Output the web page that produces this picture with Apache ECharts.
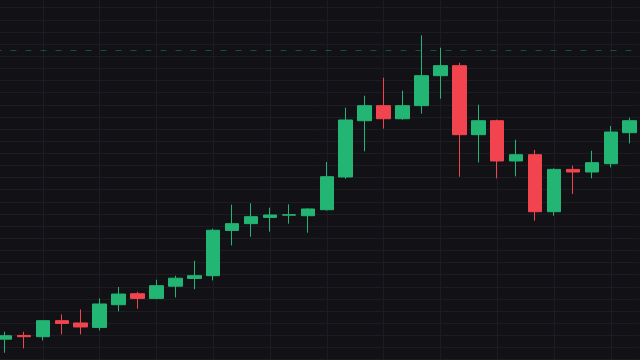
<!DOCTYPE html>
<html>
<head>
<meta charset="utf-8">
<script src="https://cdn.jsdelivr.net/npm/echarts@6/dist/echarts.min.js"></script>
<style>
html,body{margin:0;padding:0;background:#111116;}
#c{width:640px;height:360px;}
</style>
</head>
<body>
<div id="c"></div>
<script>
const categories = ['1','2','3','4','5','6','7','8','9','10','11','12','13','14','15','16','17','18','19','20','21','22','23','24','25','26','27','28','29','30','31','32','33','34'];
const opens  = [103.38,104.00,103.79,106.43,106.05,105.32,109.06,110.87,110.10,112.11,113.39,113.84,121.30,122.41,123.44,123.81,123.72,124.71,130.10,139.37,141.85,139.70,141.85,146.79,148.44,137.07,139.37,132.74,133.77,124.38,131.35,130.92,132.29,137.40];
const closes = [103.95,103.79,106.43,105.98,105.39,109.18,110.82,110.10,112.19,113.43,113.84,121.33,122.41,123.56,123.84,123.89,124.83,130.15,139.49,141.85,139.70,141.85,146.79,148.44,137.07,139.37,132.74,133.77,124.38,131.35,130.92,132.46,137.51,139.37];
const lows   = [101.15,101.86,103.18,104.17,104.17,104.83,107.96,108.40,109.97,110.26,111.61,113.06,118.83,120.26,121.09,122.41,120.92,124.55,129.82,134.32,138.06,139.54,140.53,143.00,130.15,132.50,129.87,130.20,122.90,123.72,127.30,129.87,131.68,135.63];
const highs  = [104.61,104.61,106.51,107.46,108.29,110.10,111.98,111.17,113.18,113.84,116.31,121.58,125.54,125.75,125.04,125.59,124.96,132.57,141.52,143.49,146.46,144.32,153.43,151.40,148.93,142.01,139.54,136.24,134.55,131.52,131.96,134.43,138.50,139.87];
const levelLine = 150.91;
const yMin = 100, yMax = 160, yStep = 2;

const candleData = categories.map((c, i) => [opens[i], closes[i], lows[i], highs[i]]);
const UP = '#22b573', DOWN = '#f2444f', GRIDC = '#1c1c22';

const chart = echarts.init(document.getElementById('c'), null, {renderer: 'canvas'});
chart.setOption({
  backgroundColor: '#111116',
  animation: false,
  grid: {left: -4.5, right: 0.8, top: -4.5, bottom: 0.3, containLabel: false, outerBoundsMode: 'none'},
  xAxis: {
    type: 'category',
    data: categories,
    boundaryGap: true,
    axisLine: {show: false},
    axisTick: {show: false},
    axisLabel: {show: false},
    splitLine: {
      show: true,
      alignWithLabel: true,
      interval: function (idx) { return idx % 3 === 2; },
      lineStyle: {color: GRIDC, width: 1}
    }
  },
  yAxis: {
    type: 'value',
    min: yMin, max: yMax, interval: yStep,
    axisLine: {show: false},
    axisTick: {show: false},
    axisLabel: {show: false},
    splitLine: {show: true, lineStyle: {color: GRIDC, width: 1}}
  },
  series: [{
    type: 'candlestick',
    data: candleData,
    barWidth: 14,
    clip: false,
    itemStyle: {color: UP, color0: DOWN, borderColor: UP, borderColor0: DOWN, borderWidth: 1},
    markLine: {
      silent: true,
      symbol: ['none', 'none'],
      label: {show: false},
      lineStyle: {color: 'rgba(34,181,115,0.38)', type: [6, 9], width: 1},
      data: [{yAxis: levelLine}]
    }
  }]
});
</script>
</body>
</html>
